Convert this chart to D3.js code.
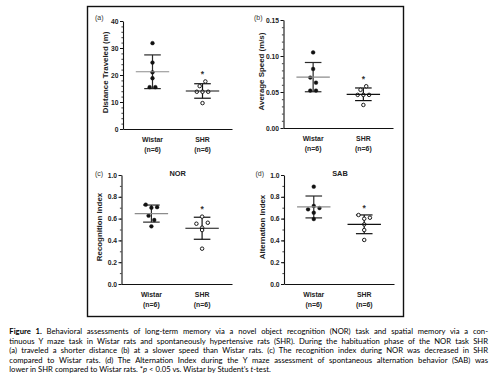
<!DOCTYPE html>
<html><head><meta charset="utf-8">
<script src="https://cdn.jsdelivr.net/npm/d3@7/dist/d3.min.js"></script>
<style>body{margin:0;background:#fff}svg{display:block}</style>
</head><body>
<svg id="c" width="492" height="386"></svg>
<script>
// ---------------- data ----------------
const categories = ["Wistar", "SHR"];
const groupN = ["(n=6)", "(n=6)"];

const distWistar  = [31.8, 24.6, 21.0, 18.8, 15.5, 15.5];
const distSHR     = [15.9, 17.6, 13.8, 13.8, 13.8, 9.6];
const speedWistar = [0.105, 0.082, 0.070, 0.063, 0.052, 0.052];
const speedSHR    = [0.053, 0.058, 0.046, 0.046, 0.046, 0.032];
const recogWistar = [0.728, 0.700, 0.705, 0.627, 0.587, 0.529];
const recogSHR    = [0.618, 0.553, 0.517, 0.562, 0.495, 0.324];
const altWistar   = [0.893, 0.685, 0.716, 0.697, 0.654, 0.596];
const altSHR      = [0.633, 0.599, 0.608, 0.547, 0.495, 0.404];

const ticksDist  = [0, 10, 20, 30, 40];
const ticksSpeed = [0, 0.05, 0.10, 0.15];
const ticksIndex = [0, 0.2, 0.4, 0.6, 0.8, 1.0];

const captionLines = [
  [["b","Figure 1."],["n"," Behavioral assessments of long-term memory via a novel object recognition (NOR) task and spatial memory via a con-"]],
  [["n","tinuous Y maze task in Wistar rats and spontaneously hypertensive rats (SHR). During the habituation phase of the NOR task SHR"]],
  [["n","(a) traveled a shorter distance (b) at a slower speed than Wistar rats. (c) The recognition index during NOR was decreased in SHR"]],
  [["n","compared to Wistar rats. (d) The Alternation Index during the Y maze assessment of spontaneous alternation behavior (SAB) was"]],
  [["n","lower in SHR compared to Wistar rats. *"],["i","p"],["n"," < 0.05 vs. Wistar by Student\u2019s "],["i","t"],["n","-test."]]
];

// ---------------- layout ----------------
const svg = d3.select("#c");
const FONT = "'Liberation Sans', Arial, sans-serif";

svg.append("rect").attr("x",87.5).attr("y",6.5).attr("width",316).attr("height",310)
  .attr("fill","none").attr("stroke","#111").attr("stroke-width",1.4);

const panels = [
  {letter:"(a)", title:null, ylabel:"Distance Traveled (m)", x0:123, x1:232, yTop:21, yBot:129,
   domain:[0,40], ticks:ticksDist, minor:2, fmt:d3.format("d"), w:distWistar, s:distSHR, lx:95, ly:19.5, tx:-15},
  {letter:"(b)", title:null, ylabel:"Average Speed (m/s)", x0:283.5, x1:393, yTop:20, yBot:128,
   domain:[0,0.15], ticks:ticksSpeed, minor:0.01, fmt:d3.format(".2f"), w:speedWistar, s:speedSHR, lx:254, ly:19.5, tx:-20},
  {letter:"(c)", title:"NOR", ylabel:"Recognition Index", x0:121.5, x1:232, yTop:175, yBot:284,
   domain:[0,1], ticks:ticksIndex, minor:0.1, fmt:d3.format(".1f"), w:recogWistar, s:recogSHR, lx:95, ly:175.5, tx:-19.5},
  {letter:"(d)", title:"SAB", ylabel:"Alternation Index", x0:284, x1:394, yTop:175, yBot:284,
   domain:[0,1], ticks:ticksIndex, minor:0.1, fmt:d3.format(".1f"), w:altWistar, s:altSHR, lx:255.5, ly:176, tx:-19}
];

// Prism-like row swarm: points within `thr` px share a row, spread symmetrically
function swarm(values, y, thr, sp) {
  const idx = values.map((v,i)=>i).sort((a,b)=>values[b]-values[a] || a-b);
  const rows = [];
  idx.forEach(i => {
    const py = y(values[i]);
    const last = rows[rows.length-1];
    if (last && Math.abs(py - last.y0) < thr) last.m.push(i);
    else rows.push({y0:py, m:[i]});
  });
  const off = new Array(values.length).fill(0);
  rows.forEach(r => {
    r.m.sort((a,b)=>a-b);
    r.m.forEach((i,k)=>{ off[i] = (k - (r.m.length-1)/2) * sp; });
  });
  return off;
}

panels.forEach(p => {
  const g = svg.append("g");
  const y = d3.scaleLinear().domain(p.domain).range([p.yBot, p.yTop]);
  const x = d3.scalePoint().domain(categories).range([p.x0, p.x1]).padding(0.59);

  // minor ticks
  const minorVals = d3.range(p.domain[0], p.domain[1] + p.minor/2, p.minor);
  g.append("g").attr("transform",`translate(${p.x0},0)`)
    .call(d3.axisLeft(y).tickValues(minorVals).tickSize(1.6).tickSizeOuter(0).tickFormat(""))
    .call(a => a.select(".domain").remove())
    .selectAll("line").attr("stroke","#111").attr("stroke-width",0.8);

  // major y axis
  const ya = g.append("g").attr("transform",`translate(${p.x0},0)`)
    .call(d3.axisLeft(y).tickValues(p.ticks).tickSize(3).tickSizeOuter(0).tickPadding(1.5).tickFormat(p.fmt));
  ya.select(".domain").attr("stroke","#111").attr("stroke-width",1.1);
  ya.selectAll(".tick line").attr("stroke","#111").attr("stroke-width",1);
  ya.selectAll(".tick text").attr("font-family",FONT).attr("font-size",6.7).attr("font-weight","bold").attr("fill","#222");

  // x axis (baseline only)
  const xa = g.append("g").attr("transform",`translate(0,${p.yBot})`)
    .call(d3.axisBottom(d3.scaleLinear().range([p.x0, p.x1])).tickValues([]).tickSizeOuter(0));
  xa.select(".domain").attr("stroke","#111").attr("stroke-width",1.1);

  // category labels
  categories.forEach((c,i) => {
    g.append("text").attr("x",x(c)).attr("y",p.yBot+12.5).attr("text-anchor","middle")
      .attr("font-family",FONT).attr("font-size",6.9).attr("font-weight","bold").attr("fill","#222").text(c);
    g.append("text").attr("x",x(c)).attr("y",p.yBot+22.8).attr("text-anchor","middle")
      .attr("font-family",FONT).attr("font-size",6.9).attr("font-weight","bold").attr("fill","#222").text(groupN[i]);
  });

  // y label
  const cy = (p.yTop + p.yBot)/2 - 2.5;
  g.append("text").attr("transform",`translate(${p.x0 + p.tx},${cy}) rotate(-90)`)
    .attr("text-anchor","middle").attr("font-family",FONT).attr("font-size",7.9)
    .attr("font-weight","bold").attr("fill","#222").text(p.ylabel);

  // panel letter
  g.append("text").attr("x",p.lx).attr("y",p.ly).attr("font-family",FONT).attr("font-size",7)
    .attr("fill","#333").text(p.letter);

  // title
  if (p.title) g.append("text").attr("x",(p.x0+p.x1)/2 + 1).attr("y",p.yTop + 0.5).attr("text-anchor","middle")
    .attr("font-family",FONT).attr("font-size",7.4).attr("font-weight","bold").attr("fill","#222").text(p.title);

  // groups
  [[p.w, categories[0]], [p.s, categories[1]]].forEach(([vals, cat], gi) => {
    const cx = x(cat);
    const m = d3.mean(vals), sd = d3.deviation(vals);
    const sdCol = gi === 0 ? "#2a2a2a" : "#111";
    const meanCol = gi === 0 ? "#8c8c8c" : "#111";
    // SD bar
    g.append("line").attr("x1",cx).attr("x2",cx).attr("y1",y(m+sd)).attr("y2",y(m-sd))
      .attr("stroke",sdCol).attr("stroke-width",1.2);
    [m+sd, m-sd].forEach(v => g.append("line").attr("x1",cx-8.3).attr("x2",cx+8.3)
      .attr("y1",y(v)).attr("y2",y(v)).attr("stroke",sdCol).attr("stroke-width",1.2));
    // points
    const off = swarm(vals, y, 5.5, 5.7);
    g.selectAll(null).data(vals).enter().append("circle")
      .attr("cx",(d,i)=>cx + off[i]).attr("cy",d=>y(d)).attr("r",gi===0?1.9:1.75)
      .attr("fill",gi===0?"#111":"#fff").attr("stroke","#111").attr("stroke-width",gi===0?0.4:0.95);
    // mean line
    g.append("line").attr("x1",cx-16.7).attr("x2",cx+16.7).attr("y1",y(m)).attr("y2",y(m))
      .attr("stroke",meanCol).attr("stroke-width",1.2);
    // significance star
    if (gi === 1) g.append("text").attr("x",cx).attr("y",y(d3.max(vals)) - 4.5)
      .attr("text-anchor","middle").attr("font-family",FONT).attr("font-size",8.5)
      .attr("font-weight","bold").attr("fill","#333").text("*");
  });
});

// ---------------- caption ----------------
const CAPF = "Lato, 'Open Sans', sans-serif";
const capX0 = 9.3, capX1 = 488;
const baselines = [334, 343.6, 353.2, 362.8, 372.4];
function buildLine(parts, yb, fs) {
  const t = svg.append("text").attr("x",capX0).attr("y",yb).attr("font-family",CAPF)
    .attr("font-size",fs).attr("fill","#000").attr("xml:space","preserve");
  parts.forEach(([k,s]) => {
    const ts = t.append("tspan").text(s);
    if (k === "b") ts.attr("font-weight","bold");
    if (k === "i") ts.attr("font-style","italic");
  });
  return t;
}
// size font so the last (unjustified) line matches its width in the reference
const probe = buildLine(captionLines[4], -50, 10);
const fs = 10 * (262 / probe.node().getComputedTextLength());
probe.remove();
captionLines.forEach((parts, li) => {
  const t = buildLine(parts, baselines[li], fs);
  if (li < 4) {
    const nat = t.node().getComputedTextLength();
    const txt = parts.map(p=>p[1]).join("");
    const spaces = (txt.match(/ /g) || []).length;
    t.style("word-spacing", ((capX1 - capX0 - nat) / spaces) + "px");
    const after = t.node().getComputedTextLength();
    if (Math.abs(after - (capX1 - capX0)) > 3) {
      t.style("word-spacing", null).attr("textLength", capX1 - capX0).attr("lengthAdjust","spacing");
    }
  }
});
</script>
</body></html>
